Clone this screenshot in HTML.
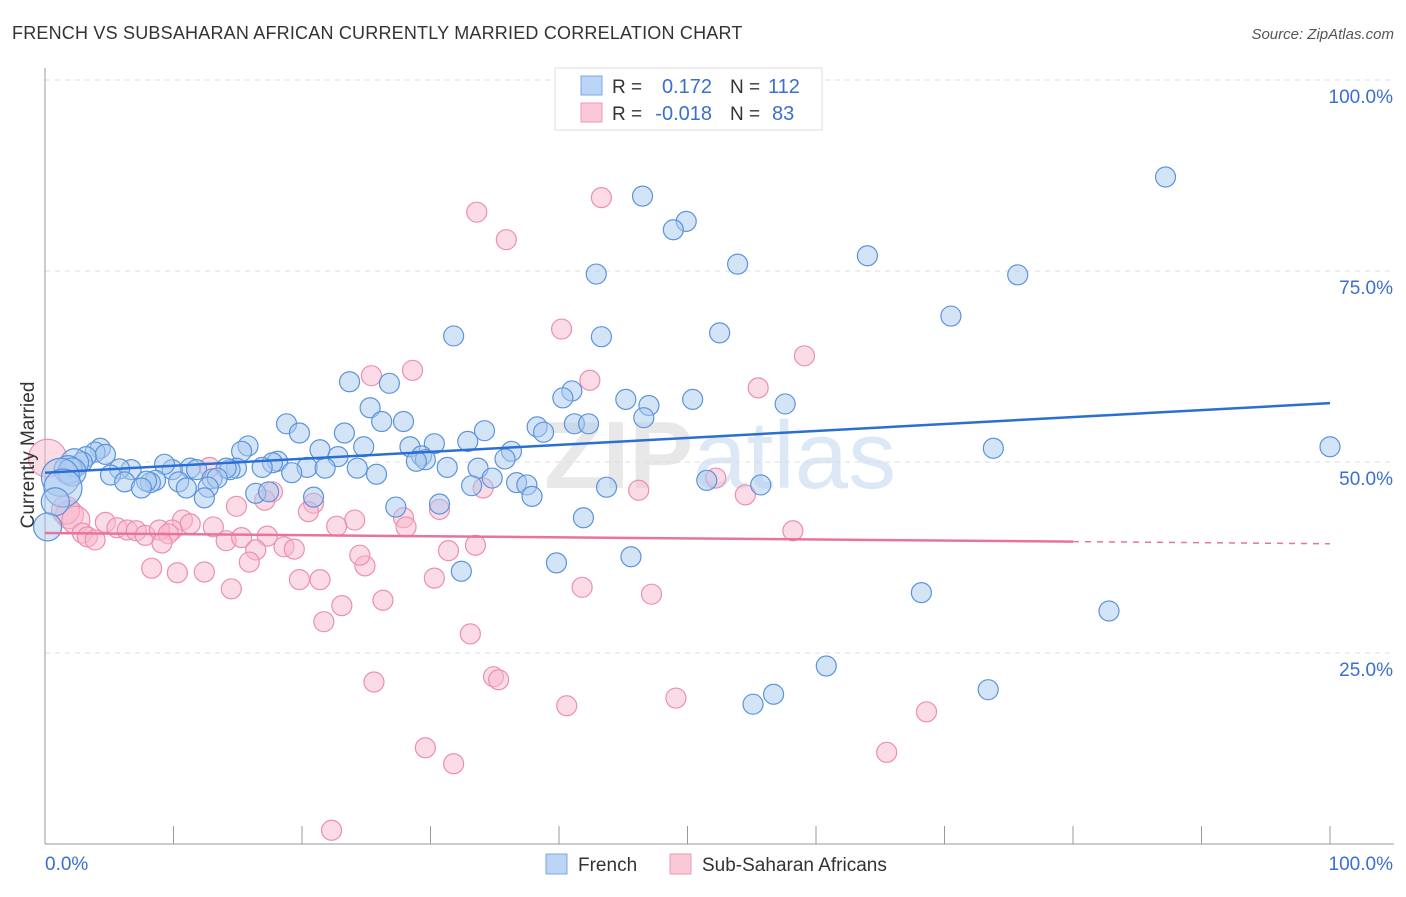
<!DOCTYPE html>
<html><head><meta charset="utf-8"><style>
body{margin:0;background:#fff;font-family:"Liberation Sans",sans-serif}
svg text{font-family:"Liberation Sans",sans-serif}
</style></head><body>
<svg id="c" width="1406" height="892" xmlns="http://www.w3.org/2000/svg">
<text x="12" y="39" font-size="18" letter-spacing="0.2" fill="#333">FRENCH VS SUBSAHARAN AFRICAN CURRENTLY MARRIED CORRELATION CHART</text>
<text x="1394" y="39" font-size="15" fill="#555" font-style="italic" text-anchor="end">Source: ZipAtlas.com</text>
<text x="720" y="488" font-size="96" fill="#e8e8e8" text-anchor="middle" font-weight="bold">ZIP<tspan fill="#dde8f6" font-weight="normal">atlas</tspan></text>
<g id="grid"></g><g id="pts"></g><g id="lines"></g>
<text x="34" y="455" font-size="19" fill="#333" text-anchor="middle" transform="rotate(-90 34 455)">Currently Married</text>
<g>
<rect x="555" y="68" width="267" height="62" fill="#fff" stroke="#ddd"/>
<rect x="581" y="76" width="21" height="19" fill="#bcd4f5" stroke="#7aa7e6"/>
<rect x="581" y="103" width="21" height="19" fill="#fbc8d8" stroke="#ee99b3"/>
<text x="612" y="93" font-size="19" fill="#333">R =</text><text x="712" y="93" font-size="20" fill="#3a6fd0" text-anchor="end">0.172</text>
<text x="730" y="93" font-size="19" fill="#333">N =</text><text x="768" y="93" font-size="20" fill="#3a6fd0">112</text>
<text x="612" y="120" font-size="19" fill="#333">R =</text><text x="712" y="120" font-size="20" fill="#3a6fd0" text-anchor="end">-0.018</text>
<text x="730" y="120" font-size="19" fill="#333">N =</text><text x="772" y="120" font-size="20" fill="#3a6fd0">83</text>
</g>
<g>
<rect x="546" y="854" width="21" height="20" fill="#bcd4f5" stroke="#7aa7e6"/>
<text x="578" y="871" font-size="19" fill="#333">French</text>
<rect x="670" y="854" width="21" height="20" fill="#fbc8d8" stroke="#ee99b3"/>
<text x="702" y="871" font-size="19" fill="#333">Sub-Saharan Africans</text>
</g>
</svg>
<script>
const blueX=[87.2,46.5,49.9,48.9,64.0,53.9,75.7,42.9,70.5,52.5,31.8,43.3,23.7,26.8,41.0,40.3,45.2,50.4,47.0,57.6,25.3,46.6,27.9,26.2,18.8,19.8,23.3,34.2,38.3,38.8,41.2,42.3,32.9,30.3,28.4,24.8,21.4,15.8,15.3,22.8,36.3,35.8,29.3,29.6,28.9,18.1,17.7,16.9,20.4,21.8,24.3,31.3,33.7,25.8,19.2,14.9,14.4,14.1,11.3,11.8,9.9,9.3,6.7,5.8,5.1,8.6,8.2,7.9,10.4,6.2,7.5,11.0,13.0,13.4,12.7,12.4,16.4,17.4,20.9,33.2,34.8,36.7,37.5,37.9,43.7,51.5,55.7,27.3,30.7,41.9,100,73.8,4.3,3.9,4.7,3.2,2.9,2.3,1.8,2.1,1.2,1.4,0.8,0.2,32.4,39.8,45.6,68.2,82.8,60.8,73.4,56.7,55.1];
const blueY=[87.3,84.8,81.5,80.4,77.0,75.9,74.5,74.6,69.1,66.9,66.5,66.4,60.5,60.3,59.3,58.4,58.2,58.2,57.4,57.6,57.1,55.8,55.3,55.3,55.0,53.8,53.8,54.1,54.6,53.9,55.0,55.0,52.7,52.4,52.0,52.0,51.6,52.1,51.4,50.7,51.4,50.4,50.8,50.3,50.1,50.1,49.9,49.3,49.3,49.2,49.2,49.3,49.2,48.4,48.6,49.2,49.0,49.2,49.2,49.0,49.0,49.7,49.0,49.1,48.3,47.6,47.3,47.5,47.4,47.4,46.6,46.6,47.8,47.9,46.7,45.3,45.9,46.1,45.4,46.9,47.9,47.3,47.0,45.5,46.7,47.6,47.0,44.1,44.5,42.7,52.0,51.8,51.8,51.3,51.0,50.7,50.0,49.9,49.0,48.7,48.0,46.6,44.8,41.5,35.7,36.8,37.6,32.9,30.5,23.3,20.2,19.6,18.3];
const pinkX=[33.6,43.3,35.9,40.2,59.1,28.6,25.4,42.4,55.5,12.8,0.2,52.2,34.1,46.2,54.5,17.7,17.1,20.9,20.5,14.9,30.7,27.9,28.1,24.1,22.7,10.7,11.3,9.9,13.1,4.7,5.6,6.4,7.1,7.8,8.9,9.6,9.1,1.9,1.6,2.4,2.9,3.3,3.9,14.1,15.3,17.3,16.4,18.6,19.4,15.9,24.9,24.5,31.4,33.5,8.3,10.3,12.4,19.8,21.4,30.3,14.5,41.8,47.2,26.3,23.1,21.7,33.1,58.2,25.6,34.9,35.3,40.6,49.1,68.6,65.5,29.6,31.8,22.3];
const pinkY=[82.7,84.6,79.1,67.4,63.9,62.0,61.3,60.7,59.7,49.3,50.5,47.9,46.6,46.3,45.7,46.1,45.0,44.6,43.5,44.2,43.8,42.7,41.5,42.4,41.6,42.4,41.9,41.1,41.5,42.1,41.4,41.1,41.0,40.4,41.1,40.6,39.4,43.1,43.7,42.4,40.7,40.2,39.8,39.7,40.1,40.3,38.5,38.9,38.6,36.9,36.4,37.8,38.4,39.1,36.1,35.5,35.6,34.6,34.6,34.8,33.4,33.6,32.7,31.9,31.2,29.1,27.5,41.0,21.2,21.9,21.5,18.1,19.1,17.3,12.0,12.6,10.5,1.8];
const blueTrend=[48.6,57.7];
const pinkTrend=[40.7,39.3];
const yTicks=[25,50,75,100];
const yTickLabels=["25.0%","50.0%","75.0%","100.0%"];
const xTicks=[0,10,20,30,40,50,60,70,80,90,100];
const NS="http://www.w3.org/2000/svg";
const X=v=>45+v*12.85, Y=v=>844-v*7.64;
function mk(t,a,p){const e=document.createElementNS(NS,t);for(const k in a)e.setAttribute(k,a[k]);p.appendChild(e);return e;}
const g=document.getElementById('grid');
yTicks.forEach((t,i)=>{
 const l=mk('line',{x1:45,x2:1394,y1:Y(t),y2:Y(t),stroke:'#ddd','stroke-dasharray':'5,5'},g);
 
 
 const tx=mk('text',{x:1393,y:Y(t)+23,'font-size':19,fill:'#3a6fd0','text-anchor':'end'},g);
 tx.textContent=yTickLabels[i];
 
 
});
const ax=mk('line',{x1:45,x2:1394,y1:844,y2:844,stroke:'#999'},g);


const ay=mk('line',{x1:45,x2:45,y1:68,y2:844,stroke:'#999'},g);


xTicks.forEach(t=>{
 const l=mk('line',{x1:X(t),x2:X(t),y1:826,y2:844,stroke:'#999'},g);
 
 
});
[["0.0%",45,'start'],["100.0%",1393,'end']].forEach(a=>{
 const tx=mk('text',{x:a[1],y:870,'font-size':19,fill:'#3a6fd0','text-anchor':a[2]},g);
 tx.textContent=a[0];
 
 
});
const p=document.getElementById('pts');
function dots(xs,ys,fill,stroke,name){
 xs.forEach((x,i)=>{
  let r=10; if(x<2.5) r=14; if(x<1.5&&ys[i]>46&&ys[i]<51) r=19;
  const c=mk('circle',{cx:X(x),cy:Y(ys[i]),r:r,fill:fill,'fill-opacity':0.5,stroke:stroke,'stroke-width':1.2},p);
  
  
 });
}
dots(pinkX,pinkY,'#f7b8cb','#ec8fae','subsaharan-point');
dots(blueX,blueY,'#a9c9f0','#5b93dc','french-point');
const L=document.getElementById('lines');
const bl=mk('line',{x1:X(0),y1:Y(blueTrend[0]),x2:X(100),y2:Y(blueTrend[1]),stroke:'#2a6fd4','stroke-width':2.5},L);


const pm=v=>pinkTrend[0]+(pinkTrend[1]-pinkTrend[0])*v/100;
const pl=mk('line',{x1:X(0),y1:Y(pm(0)),x2:X(80),y2:Y(pm(80)),stroke:'#e8739b','stroke-width':2.5},L);


const pd=mk('line',{x1:X(80),y1:Y(pm(80)),x2:X(100),y2:Y(pm(100)),stroke:'#e8739b','stroke-width':1.5,'stroke-dasharray':'6,6'},L);


</script>
</body></html>
